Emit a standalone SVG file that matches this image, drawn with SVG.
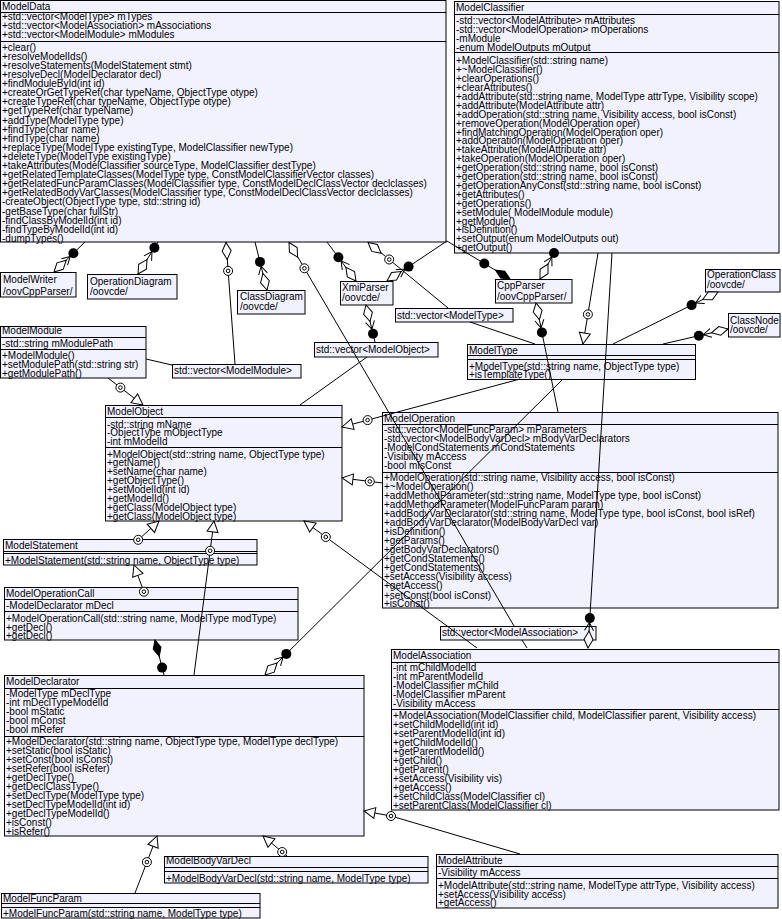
<svg xmlns="http://www.w3.org/2000/svg" width="782" height="919" viewBox="0 0 782 919">
<style>
.b{fill:#f2f2ff;stroke:#000;stroke-width:1}
.s{stroke:#000;stroke-width:1}
text{font-family:"Liberation Sans",Arial,Helvetica,sans-serif;font-size:10px;fill:#000}
.c{stroke:#000;stroke-width:1;fill:none}
</style>
<defs>
<path id="dia" d="M0,0 L8.5,-4.5 L17,0 L8.5,4.5 Z" fill="#fff" stroke="#000"/>
<path id="fdia" d="M0,0 L8.5,-4 L17,0 L8.5,4 Z" fill="#000" stroke="#000"/>
<circle id="dot" r="5" fill="#000"/>
<g id="odot"><circle r="4.5" fill="#fff" stroke="#000"/><circle r="1.8" fill="none" stroke="#000"/></g>
<path id="tri" d="M0,0 L11,-5.5 L11,5.5 Z" fill="#fff" stroke="#000"/>
<path id="vee" d="M-8,-4.5 L0,0 L-8,4.5" fill="none" stroke="#000"/>
</defs>
<rect width="782" height="919" fill="#fff"/>

<g id="ModelData">
<rect class="b" x="0.5" y="0.5" width="445.5" height="241.5"/>
<line class="s" x1="0.5" y1="12.5" x2="446" y2="12.5"/>
<line class="s" x1="0.5" y1="41.5" x2="446" y2="41.5"/>
<text x="2" y="10">ModelData</text>
<text><tspan x="2" y="20">+std::vector&lt;ModelType&gt; mTypes</tspan><tspan x="2" y="29">+std::vector&lt;ModelAssociation&gt; mAssociations</tspan><tspan x="2" y="38">+std::vector&lt;ModelModule&gt; mModules</tspan></text>
<text><tspan x="2" y="50.7">+clear()</tspan><tspan x="2" y="59.8">+resolveModelIds()</tspan><tspan x="2" y="68.9">+resolveStatements(ModelStatement stmt)</tspan><tspan x="2" y="78">+resolveDecl(ModelDeclarator decl)</tspan><tspan x="2" y="87.1">+findModuleById(int id)</tspan><tspan x="2" y="96.2">+createOrGetTypeRef(char typeName, ObjectType otype)</tspan><tspan x="2" y="105.3">+createTypeRef(char typeName, ObjectType otype)</tspan><tspan x="2" y="114.4">+getTypeRef(char typeName)</tspan><tspan x="2" y="123.5">+addType(ModelType type)</tspan><tspan x="2" y="132.6">+findType(char name)</tspan><tspan x="2" y="141.7">+findType(char name)</tspan><tspan x="2" y="150.8">+replaceType(ModelType existingType, ModelClassifier newType)</tspan><tspan x="2" y="159.9">+deleteType(ModelType existingType)</tspan><tspan x="2" y="169">+takeAttributes(ModelClassifier sourceType, ModelClassifier destType)</tspan><tspan x="2" y="178.1">+getRelatedTemplateClasses(ModelType type, ConstModelClassifierVector classes)</tspan><tspan x="2" y="187.2">+getRelatedFuncParamClasses(ModelClassifier type, ConstModelDeclClassVector declclasses)</tspan><tspan x="2" y="196.3">+getRelatedBodyVarClasses(ModelClassifier type, ConstModelDeclClassVector declclasses)</tspan><tspan x="2" y="205.4">-createObject(ObjectType type, std::string id)</tspan><tspan x="2" y="214.5">-getBaseType(char fullStr)</tspan><tspan x="2" y="223.6">-findClassByModelId(int id)</tspan><tspan x="2" y="232.7">-findTypeByModelId(int id)</tspan><tspan x="2" y="241.8">-dumpTypes()</tspan></text>
</g>

<g id="ModelClassifier">
<rect class="b" x="454.5" y="1.5" width="324.5" height="251.5"/>
<line class="s" x1="454.5" y1="14.5" x2="779" y2="14.5"/>
<line class="s" x1="454.5" y1="52.5" x2="779" y2="52.5"/>
<text x="456" y="11">ModelClassifier</text>
<text><tspan x="456" y="24.3">-std::vector&lt;ModelAttribute&gt; mAttributes</tspan><tspan x="456" y="33.3">-std::vector&lt;ModelOperation&gt; mOperations</tspan><tspan x="456" y="42.3">-mModule</tspan><tspan x="456" y="51.3">-enum ModelOutputs mOutput</tspan></text>
<text><tspan x="456" y="64.3">+ModelClassifier(std::string name)</tspan><tspan x="456" y="73.2">+~ModelClassifier()</tspan><tspan x="456" y="82.1">+clearOperations()</tspan><tspan x="456" y="91">+clearAttributes()</tspan><tspan x="456" y="99.9">+addAttribute(std::string name, ModelType attrType, Visibility scope)</tspan><tspan x="456" y="108.8">+addAttribute(ModelAttribute attr)</tspan><tspan x="456" y="117.7">+addOperation(std::string name, Visibility access, bool isConst)</tspan><tspan x="456" y="126.6">+removeOperation(ModelOperation oper)</tspan><tspan x="456" y="135.5">+findMatchingOperation(ModelOperation oper)</tspan><tspan x="456" y="144.4">+addOperation(ModelOperation oper)</tspan><tspan x="456" y="153.3">+takeAttribute(ModelAttribute attr)</tspan><tspan x="456" y="162.2">+takeOperation(ModelOperation oper)</tspan><tspan x="456" y="171.1">+getOperation(std::string name, bool isConst)</tspan><tspan x="456" y="180">+getOperation(std::string name, bool isConst)</tspan><tspan x="456" y="188.9">+getOperationAnyConst(std::string name, bool isConst)</tspan><tspan x="456" y="197.8">+getAttributes()</tspan><tspan x="456" y="206.7">+getOperations()</tspan><tspan x="456" y="215.6">+setModule( ModelModule module)</tspan><tspan x="456" y="224.5">+getModule()</tspan><tspan x="456" y="233.4">+isDefinition()</tspan><tspan x="456" y="242.3">+setOutput(enum ModelOutputs out)</tspan><tspan x="456" y="251.2">+getOutput()</tspan></text>
</g>

<g id="ModelWriter">
<rect class="b" x="0.5" y="272.5" width="75.5" height="24.5"/>
<text><tspan x="3" y="282.5">ModelWriter</tspan><tspan x="3" y="294.5">/oovCppParser/</tspan></text>
</g>
<g id="OperationDiagram">
<rect class="b" x="87.5" y="274.5" width="89.5" height="24.5"/>
<text><tspan x="90" y="284.5">OperationDiagram</tspan><tspan x="90" y="295.2">/oovcde/</tspan></text>
</g>
<g id="ClassDiagram">
<rect class="b" x="237.5" y="290.5" width="67.5" height="23.5"/>
<text><tspan x="240" y="300.2">ClassDiagram</tspan><tspan x="240" y="310.2">/oovcde/</tspan></text>
</g>
<g id="XmiParser">
<rect class="b" x="340.5" y="281.5" width="52.5" height="23.5"/>
<text><tspan x="342" y="291.2">XmiParser</tspan><tspan x="342" y="300.8">/oovcde/</tspan></text>
</g>
<g id="CppParser">
<rect class="b" x="495.5" y="279.5" width="76.5" height="23.5"/>
<text><tspan x="497" y="289.2">CppParser</tspan><tspan x="497" y="299.5">/oovCppParser/</tspan></text>
</g>
<g id="OperationClass">
<rect class="b" x="705.5" y="269.5" width="74.5" height="22.5"/>
<text><tspan x="707" y="277.8">OperationClass</tspan><tspan x="707" y="287.8">/oovcde/</tspan></text>
</g>
<g id="ClassNode">
<rect class="b" x="728.5" y="313.5" width="51.5" height="23.5"/>
<text><tspan x="730" y="323.5">ClassNode</tspan><tspan x="730" y="332.8">/oovcde/</tspan></text>
</g>

<g id="VectorModelType">
<rect class="b" x="395.5" y="308.5" width="117.5" height="13.5"/>
<text x="397" y="318.5">std::vector&lt;ModelType&gt;</text>
</g>
<g id="VectorModelObject">
<rect class="b" x="314.5" y="342.5" width="123.5" height="14.5"/>
<text x="316" y="352.5">std::vector&lt;ModelObject&gt;</text>
</g>
<g id="VectorModelModule">
<rect class="b" x="172.5" y="364.5" width="128.5" height="13.5"/>
<text x="174" y="374.2">std::vector&lt;ModelModule&gt;</text>
</g>
<g id="VectorModelAssociation">
<rect class="b" x="440.5" y="626.5" width="155.5" height="13.5"/>
<text x="442" y="636">std::vector&lt;ModelAssociation&gt;</text>
</g>

<g id="ModelModule">
<rect class="b" x="0.5" y="326.5" width="145.5" height="51.5"/>
<line class="s" x1="0.5" y1="337.5" x2="146" y2="337.5"/>
<line class="s" x1="0.5" y1="349.5" x2="146" y2="349.5"/>
<text x="2" y="334.2">ModelModule</text>
<text x="2" y="346.8">-std::string mModulePath</text>
<text><tspan x="2" y="359.2">+ModelModule()</tspan><tspan x="2" y="367.8">+setModulePath(std::string str)</tspan><tspan x="2" y="376.8">+getModulePath()</tspan></text>
</g>

<g id="ModelType">
<rect class="b" x="467.5" y="344.5" width="228" height="35"/>
<line class="s" x1="467.5" y1="355.5" x2="695.5" y2="355.5"/>
<line class="s" x1="467.5" y1="359.5" x2="695.5" y2="359.5"/>
<text x="469" y="353.5">ModelType</text>
<text><tspan x="469" y="369.5">+ModelType(std::string name, ObjectType type)</tspan><tspan x="469" y="377.8">+isTemplateType()</tspan></text>
</g>

<g id="ModelObject">
<rect class="b" x="105.5" y="405.5" width="236.5" height="115.5"/>
<line class="s" x1="105.5" y1="417.5" x2="342" y2="417.5"/>
<line class="s" x1="105.5" y1="447.5" x2="342" y2="447.5"/>
<text x="107" y="415.2">ModelObject</text>
<text><tspan x="107" y="427.5">-std::string mName</tspan><tspan x="107" y="436.2">-ObjectType mObjectType</tspan><tspan x="107" y="445.2">-int mModelId</tspan></text>
<text><tspan x="107" y="457.6">+ModelObject(std::string name, ObjectType type)</tspan><tspan x="107" y="466.4">+getName()</tspan><tspan x="107" y="475.3">+setName(char name)</tspan><tspan x="107" y="484.2">+getObjectType()</tspan><tspan x="107" y="493.3">+setModelId(int id)</tspan><tspan x="107" y="502.2">+getModelId()</tspan><tspan x="107" y="511.2">+getClass(ModelObject type)</tspan><tspan x="107" y="520.2">+getClass(ModelObject type)</tspan></text>
</g>

<g id="ModelOperation">
<rect class="b" x="382.5" y="412.5" width="395.5" height="195.5"/>
<line class="s" x1="382.5" y1="424.5" x2="778" y2="424.5"/>
<line class="s" x1="382.5" y1="472.5" x2="778" y2="472.5"/>
<text x="384" y="421.8">ModelOperation</text>
<text><tspan x="384" y="432.8">-std::vector&lt;ModelFuncParam&gt; mParameters</tspan><tspan x="384" y="442.2">-std::vector&lt;ModelBodyVarDecl&gt; mBodyVarDeclarators</tspan><tspan x="384" y="451.2">-ModelCondStatements mCondStatements</tspan><tspan x="384" y="460.2">-Visibility mAccess</tspan><tspan x="384" y="469.2">-bool mIsConst</tspan></text>
<text><tspan x="384" y="480.8">+ModelOperation(std::string name, Visibility access, bool isConst)</tspan><tspan x="384" y="489.8">+~ModelOperation()</tspan><tspan x="384" y="498.8">+addMethodParameter(std::string name, ModelType type, bool isConst)</tspan><tspan x="384" y="507.8">+addMethodParameter(ModelFuncParam param)</tspan><tspan x="384" y="516.8">+addBodyVarDeclarator(std::string name, ModelType type, bool isConst, bool isRef)</tspan><tspan x="384" y="525.9">+addBodyVarDeclarator(ModelBodyVarDecl var)</tspan><tspan x="384" y="535.1">+isDefinition()</tspan><tspan x="384" y="544.2">+getParams()</tspan><tspan x="384" y="553.2">+getBodyVarDeclarators()</tspan><tspan x="384" y="562.2">+getCondStatements()</tspan><tspan x="384" y="571.2">+getCondStatements()</tspan><tspan x="384" y="580.4">+setAccess(Visibility access)</tspan><tspan x="384" y="589.4">+getAccess()</tspan><tspan x="384" y="598.5">+setConst(bool isConst)</tspan><tspan x="384" y="607.3">+isConst()</tspan></text>
</g>

<g id="ModelStatement">
<rect class="b" x="3.5" y="539.5" width="253.5" height="25.5"/>
<line class="s" x1="3.5" y1="551.5" x2="257" y2="551.5"/>
<line class="s" x1="3.5" y1="553.5" x2="257" y2="553.5"/>
<text x="5" y="549.2">ModelStatement</text>
<text x="5" y="564.3">+ModelStatement(std::string name, ObjectType type)</text>
</g>

<g id="ModelOperationCall">
<rect class="b" x="4.5" y="587.5" width="293.5" height="52.5"/>
<line class="s" x1="4.5" y1="599.5" x2="298" y2="599.5"/>
<line class="s" x1="4.5" y1="611.5" x2="298" y2="611.5"/>
<text x="6" y="596.8">ModelOperationCall</text>
<text x="6" y="608.5">-ModelDeclarator mDecl</text>
<text><tspan x="6" y="621.8">+ModelOperationCall(std::string name, ModelType modType)</tspan><tspan x="6" y="630.8">+getDecl()</tspan><tspan x="6" y="639.3">+getDecl()</tspan></text>
</g>

<g id="ModelDeclarator">
<rect class="b" x="4.5" y="675.5" width="359.5" height="160.5"/>
<line class="s" x1="4.5" y1="688.5" x2="364" y2="688.5"/>
<line class="s" x1="4.5" y1="736.5" x2="364" y2="736.5"/>
<text x="6" y="685.2">ModelDeclarator</text>
<text><tspan x="6" y="696.8">-ModelType mDeclType</tspan><tspan x="6" y="705.8">-int mDeclTypeModelId</tspan><tspan x="6" y="714.8">-bool mStatic</tspan><tspan x="6" y="723.8">-bool mConst</tspan><tspan x="6" y="732.8">-bool mRefer</tspan></text>
<text><tspan x="6" y="744.8">+ModelDeclarator(std::string name, ObjectType type, ModelType declType)</tspan><tspan x="6" y="753.8">+setStatic(bool isStatic)</tspan><tspan x="6" y="762.8">+setConst(bool isConst)</tspan><tspan x="6" y="771.8">+setRefer(bool isRefer)</tspan><tspan x="6" y="780.8">+getDeclType()</tspan><tspan x="6" y="789.8">+getDeclClassType()</tspan><tspan x="6" y="798.8">+setDeclType(ModelType type)</tspan><tspan x="6" y="807.8">+setDeclTypeModelId(int id)</tspan><tspan x="6" y="816.8">+getDeclTypeModelId()</tspan><tspan x="6" y="825.8">+isConst()</tspan><tspan x="6" y="834.8">+isRefer()</tspan></text>
</g>

<g id="ModelAssociation">
<rect class="b" x="391.5" y="649.5" width="387.5" height="160.5"/>
<line class="s" x1="391.5" y1="662.5" x2="779" y2="662.5"/>
<line class="s" x1="391.5" y1="709.5" x2="779" y2="709.5"/>
<text x="393" y="659.2">ModelAssociation</text>
<text><tspan x="393" y="670.8">-int mChildModelId</tspan><tspan x="393" y="680.2">-int mParentModelId</tspan><tspan x="393" y="689.2">-ModelClassifier mChild</tspan><tspan x="393" y="698.2">-ModelClassifier mParent</tspan><tspan x="393" y="707.2">-Visibility mAccess</tspan></text>
<text><tspan x="393" y="719.2">+ModelAssociation(ModelClassifier child, ModelClassifier parent, Visibility access)</tspan><tspan x="393" y="728">+setChildModelId(int id)</tspan><tspan x="393" y="737">+setParentModelId(int id)</tspan><tspan x="393" y="746.2">+getChildModelId()</tspan><tspan x="393" y="755.2">+getParentModelId()</tspan><tspan x="393" y="764.2">+getChild()</tspan><tspan x="393" y="773.2">+getParent()</tspan><tspan x="393" y="782.2">+setAccess(Visibility vis)</tspan><tspan x="393" y="791.2">+getAccess()</tspan><tspan x="393" y="800.4">+setChildClass(ModelClassifier cl)</tspan><tspan x="393" y="809.3">+setParentClass(ModelClassifier cl)</tspan></text>
</g>

<g id="ModelBodyVarDecl">
<rect class="b" x="164.5" y="856.5" width="263.5" height="26.5"/>
<line class="s" x1="164.5" y1="867.5" x2="428" y2="867.5"/>
<line class="s" x1="164.5" y1="871.5" x2="428" y2="871.5"/>
<text x="166" y="864.3">ModelBodyVarDecl</text>
<text x="166" y="881.8">+ModelBodyVarDecl(std::string name, ModelType type)</text>
</g>

<g id="ModelFuncParam">
<rect class="b" x="1.5" y="893.5" width="258.5" height="24.5"/>
<line class="s" x1="1.5" y1="903.5" x2="260" y2="903.5"/>
<line class="s" x1="1.5" y1="907.5" x2="260" y2="907.5"/>
<text x="3" y="901.8">ModelFuncParam</text>
<text x="3" y="916.8">+ModelFuncParam(std::string name, ModelType type)</text>
</g>

<g id="ModelAttribute">
<rect class="b" x="436.5" y="854.5" width="341.5" height="53.5"/>
<line class="s" x1="436.5" y1="866.5" x2="778" y2="866.5"/>
<line class="s" x1="436.5" y1="878.5" x2="778" y2="878.5"/>
<text x="438" y="864.3">ModelAttribute</text>
<text x="438" y="876">-Visibility mAccess</text>
<text><tspan x="438" y="888.5">+ModelAttribute(std::string name, ModelType attrType, Visibility access)</tspan><tspan x="438" y="897.5">+setAccess(Visibility access)</tspan><tspan x="438" y="906.2">+getAccess()</tspan></text>
</g>

<g id="connectors">
<path class="c" d="M54,272 L85,242"/>
<path class="c" d="M138,274 L158,242"/>
<path class="c" d="M226,242 L235,364"/>
<path class="c" d="M267,290 L255,242"/>
<path class="c" d="M289,242 L514,626 M522,640 L527,648"/>
<path class="c" d="M356,281 L327,242"/>
<path class="c" d="M368,242 L448,308 M470,322 L535,344"/>
<path class="c" d="M387,281 L447,241 L510,279"/>
<path class="c" d="M540,279 L555,251"/>
<path class="c" d="M536,303 L558,412"/>
<path class="c" d="M598,253 L583,344"/>
<path class="c" d="M588,648 L612,253"/>
<path class="c" d="M718,292 L613,344"/>
<path class="c" d="M728,329 L663,344"/>
<path class="c" d="M520,379 L342,427"/>
<path class="c" d="M383,483 L342,478"/>
<path class="c" d="M265,675 L563,379"/>
<path class="c" d="M366,305 L375,342 M367,357 L300,405"/>
<path class="c" d="M146,359 L172,365"/>
<path class="c" d="M108,378 L143,405"/>
<path class="c" d="M138,540 L159,521"/>
<path class="c" d="M144,592 L134,565"/>
<path class="c" d="M194,675 L214,521"/>
<path class="c" d="M477,648 L304,521"/>
<path class="c" d="M155,640 L164,675"/>
<path class="c" d="M135,893 L157,836"/>
<path class="c" d="M287,856 L263,836"/>
<path class="c" d="M520,854 L391,816 L364,811"/>

<use href="#dia" transform="translate(54,272) rotate(-44.1)"/>
<use href="#vee" transform="translate(70.2,256.4) rotate(-44.1)"/>
<use href="#dot" transform="translate(73.4,253.2)"/>

<use href="#dia" transform="translate(138,274) rotate(-58)"/>
<use href="#vee" transform="translate(152,251.5) rotate(-58)"/>
<use href="#dot" transform="translate(154.4,247.7)"/>

<use href="#dia" transform="translate(226,242.5) rotate(85.8)"/>
<use href="#odot" transform="translate(228.1,270.9)"/>

<use href="#dia" transform="translate(267,290) rotate(-104)"/>
<use href="#vee" transform="translate(261.1,266.2) rotate(-104)"/>
<use href="#dot" transform="translate(260,261.9)"/>

<use href="#dia" transform="translate(289,242.5) rotate(59.6)"/>
<use href="#odot" transform="translate(304.4,268.3)"/>

<use href="#dia" transform="translate(356,281) rotate(-126.6)"/>
<use href="#vee" transform="translate(341.1,260.9) rotate(-126.6)"/>
<use href="#dot" transform="translate(338.4,257.3)"/>

<use href="#dia" transform="translate(368,242.5) rotate(39.5)"/>
<use href="#odot" transform="translate(389.2,259.5)"/>

<use href="#dia" transform="translate(387,281) rotate(-33.7)"/>
<use href="#vee" transform="translate(404.9,269.1) rotate(-33.7)"/>
<use href="#dot" transform="translate(408.6,266.6)"/>

<use href="#fdia" transform="translate(510,279) rotate(-148.9)"/>
<use href="#dot" transform="translate(484.3,263.5)"/>

<use href="#dia" transform="translate(540,279) rotate(-61.8)"/>
<use href="#vee" transform="translate(551.8,257) rotate(-61.8)"/>
<use href="#dot" transform="translate(554,253)"/>

<use href="#dia" transform="translate(536,303) rotate(78.6)"/>
<use href="#vee" transform="translate(541,328) rotate(78.6)"/>
<use href="#dot" transform="translate(541.9,332.4)"/>

<use href="#tri" transform="translate(583,344) rotate(-80.6)"/>
<use href="#odot" transform="translate(587.9,314.4)"/>

<use href="#dia" transform="translate(588,648) rotate(-86.5)"/>
<use href="#vee" transform="translate(589.5,622.5) rotate(-86.5)"/>
<use href="#dot" transform="translate(589.8,618.1)"/>

<use href="#dia" transform="translate(718,292) rotate(153.6)"/>
<use href="#vee" transform="translate(695.6,303.1) rotate(153.6)"/>
<use href="#dot" transform="translate(691.6,305.1)"/>

<use href="#dia" transform="translate(728,329) rotate(167)"/>
<use href="#vee" transform="translate(703.2,334.7) rotate(167)"/>
<use href="#dot" transform="translate(698.8,335.8)"/>

<use href="#tri" transform="translate(342,427) rotate(-15.1)"/>
<use href="#odot" transform="translate(367.6,420.1)"/>

<use href="#tri" transform="translate(342,478) rotate(7)"/>
<use href="#odot" transform="translate(369.8,481.4)"/>

<use href="#dia" transform="translate(265,675) rotate(-44.8)"/>
<use href="#vee" transform="translate(283.1,657) rotate(-44.8)"/>
<use href="#dot" transform="translate(286.3,653.9)"/>

<use href="#dia" transform="translate(366,305) rotate(76.3)"/>
<use href="#vee" transform="translate(371.9,329.3) rotate(76.3)"/>
<use href="#dot" transform="translate(373,333.7)"/>

<use href="#tri" transform="translate(143,405) rotate(-142.4)"/>
<use href="#odot" transform="translate(120.4,387.6)"/>

<use href="#tri" transform="translate(159,521) rotate(137.9)"/>
<use href="#odot" transform="translate(138.2,539.8)"/>

<use href="#tri" transform="translate(134,565) rotate(69.7)"/>
<use href="#odot" transform="translate(143.9,591.7)"/>

<use href="#tri" transform="translate(214,521) rotate(97.4)"/>
<use href="#odot" transform="translate(210.1,550.8)"/>

<use href="#tri" transform="translate(304,521) rotate(36.3)"/>
<use href="#odot" transform="translate(325.8,537)"/>

<use href="#fdia" transform="translate(155,640) rotate(75.6)"/>
<use href="#dot" transform="translate(162.1,667.6)"/>

<use href="#tri" transform="translate(157,836) rotate(111.1)"/>
<use href="#odot" transform="translate(146.9,862.1)"/>

<use href="#tri" transform="translate(263,836) rotate(39.8)"/>
<use href="#odot" transform="translate(282.2,852)"/>

<use href="#tri" transform="translate(364,811) rotate(10.5)"/>
<use href="#odot" transform="translate(391,816)"/>
</g>
</svg>
